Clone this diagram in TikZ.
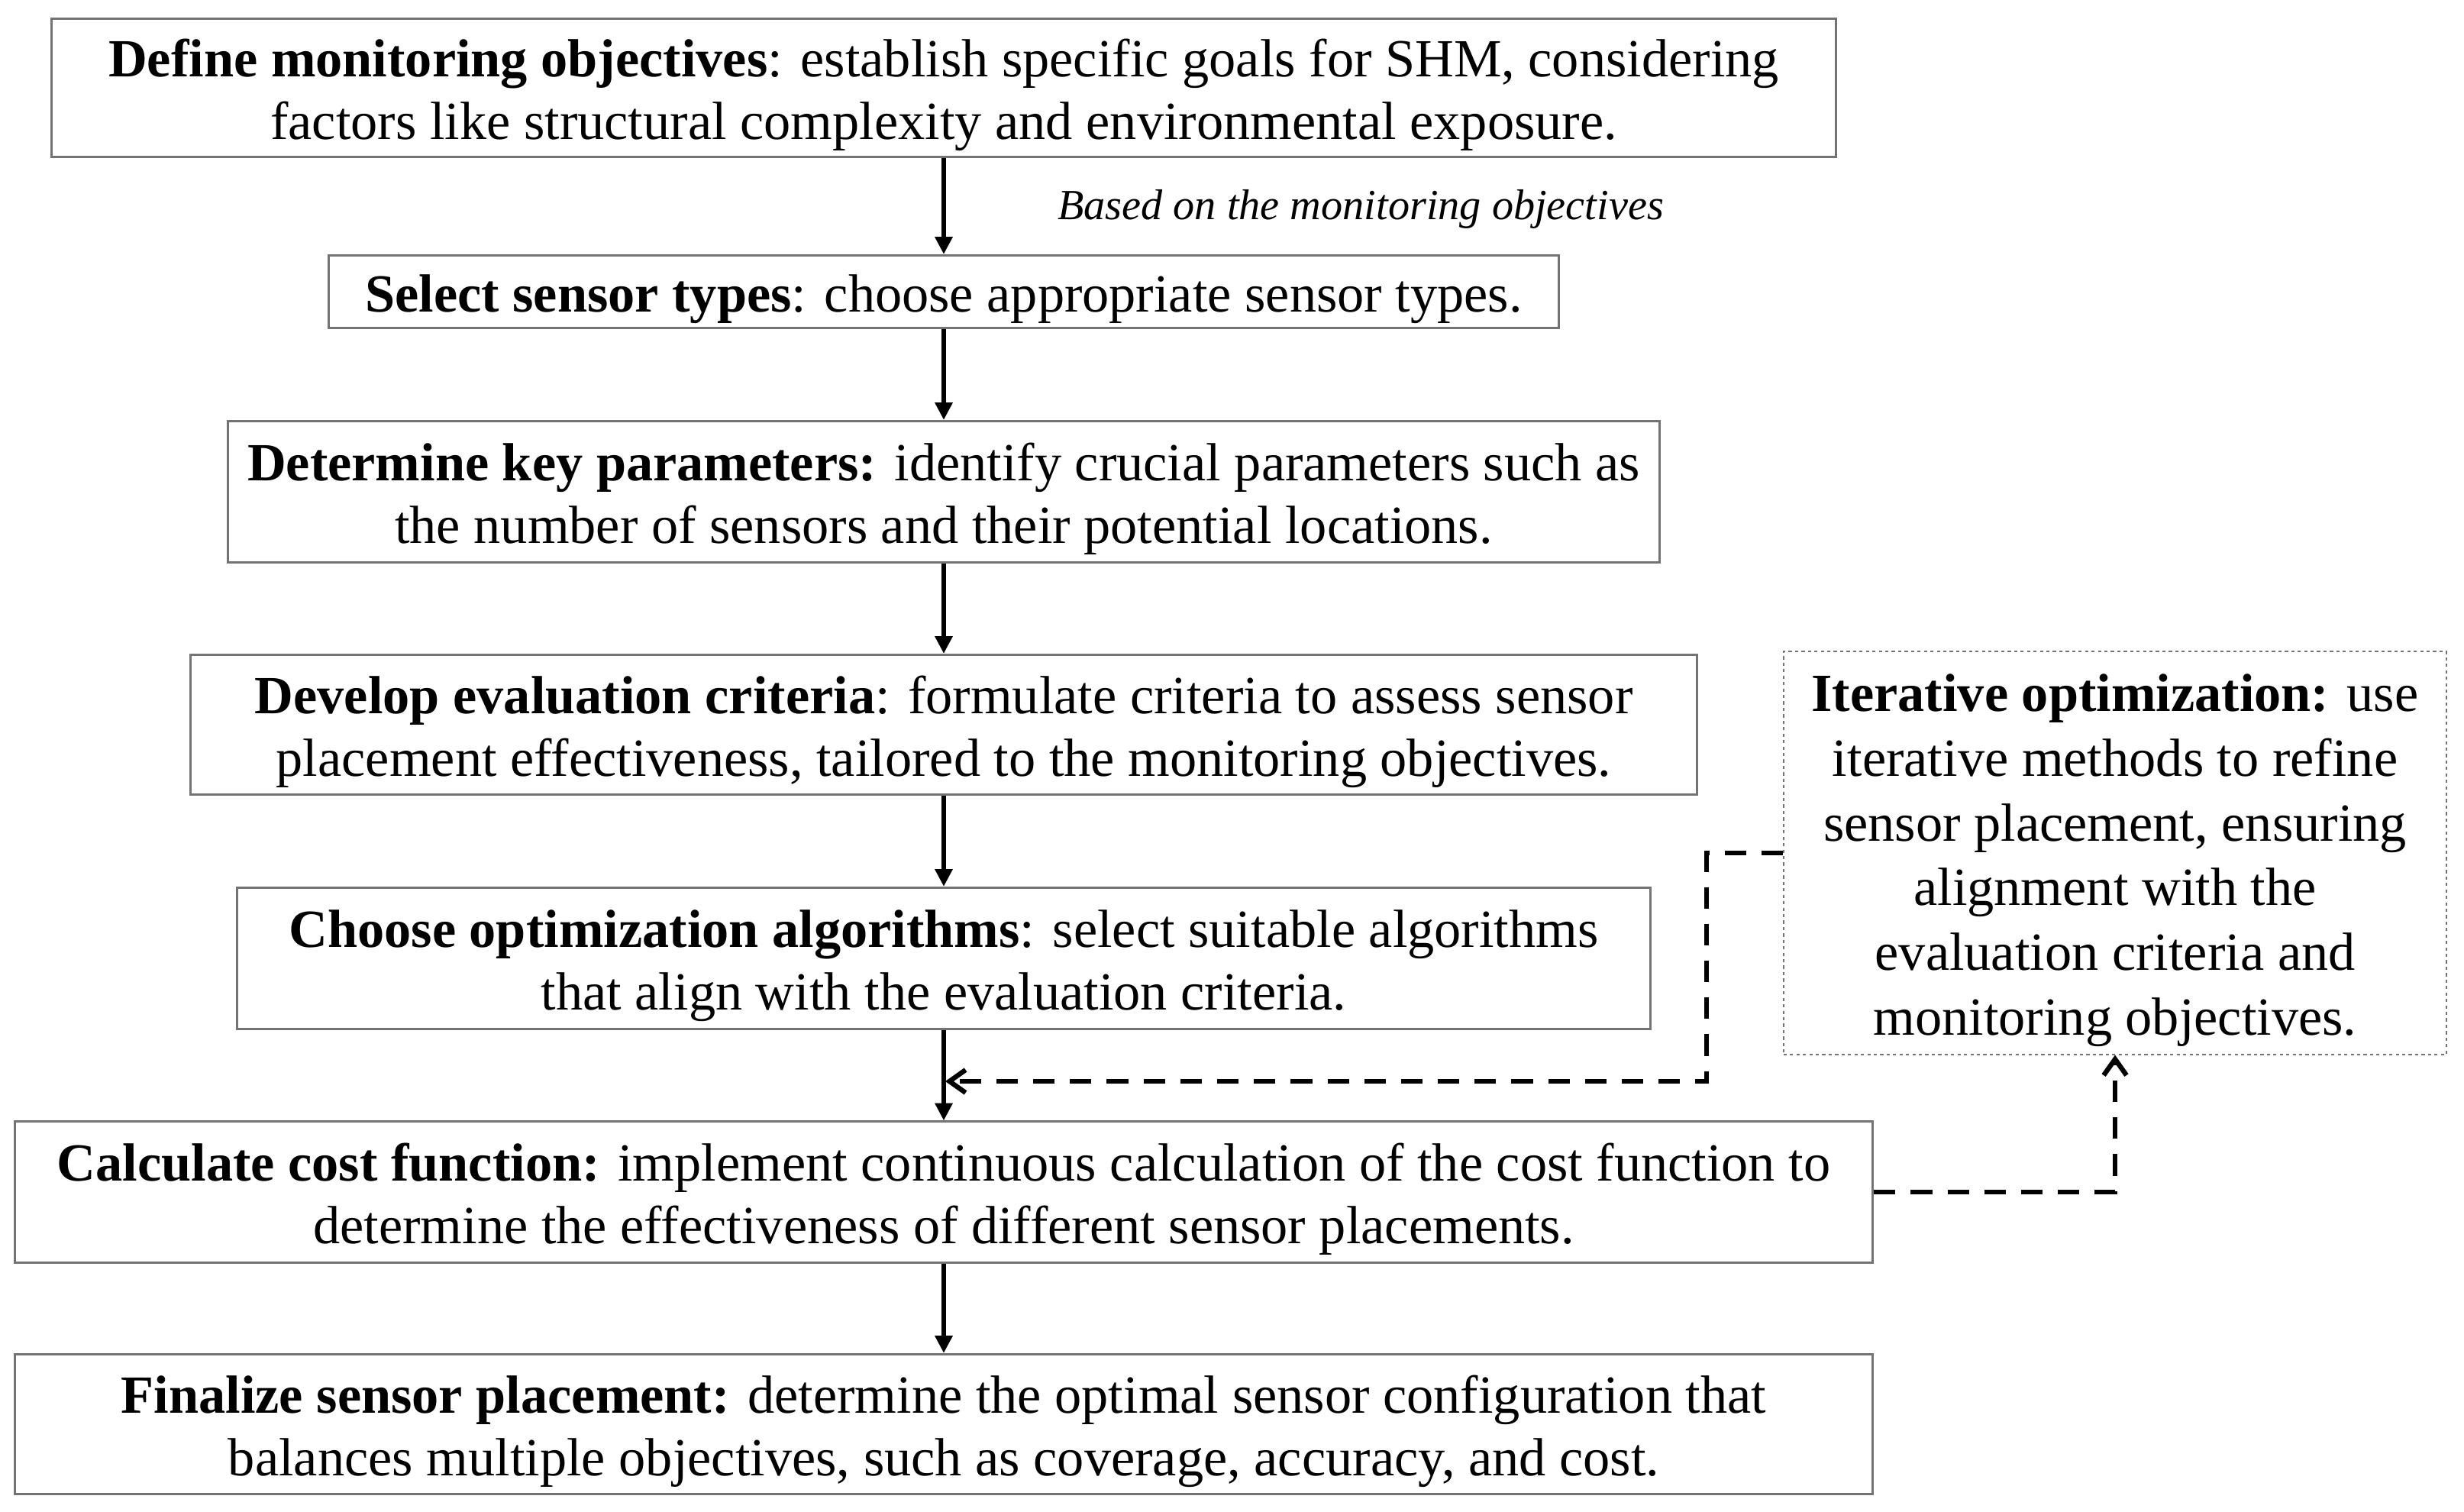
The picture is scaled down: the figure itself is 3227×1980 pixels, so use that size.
\documentclass[tikz,border=0pt]{standalone}
\usepackage{fontspec}
\setmainfont{Liberation Serif}
\usetikzlibrary{arrows.meta}
\newcommand{\capstrut}{\rule{0pt}{19.4pt}}

\begin{document}
\begin{tikzpicture}[x=0.01cm,y=-0.01cm,
stage/.style={draw=black!55,line width=0.85pt,inner sep=0pt,align=center,font=\fontsize{20}{23.3}\selectfont},
iterbox/.style={draw=black!55,line width=0.5pt,dash pattern=on 1.2pt off 1.2pt,inner sep=0pt,align=center,font=\fontsize{20}{24.1}\selectfont},
flow/.style={line width=1.8pt,-{Triangle[length=6.5pt,width=6.3pt]}},
loopback/.style={line width=1.8pt,dash pattern=on 8pt off 5.7pt,-{Straight Barb[length=6pt,width=8.5pt,line width=1.8pt]}}]
\useasboundingbox (0,0) rectangle (3227,1980);
\node[stage,minimum width=23.36cm,minimum height=1.81cm] (define) at (1236,115) {\capstrut\textbf{Define monitoring objectives}: establish specific goals for SHM, considering\\factors like structural complexity and environmental exposure.};
\node[stage,minimum width=16.1cm,minimum height=0.95cm] (select) at (1236,382) {\capstrut\textbf{Select sensor types}: choose appropriate sensor types.};
\node[stage,minimum width=18.73cm,minimum height=1.85cm] (param) at (1236,644) {\capstrut\textbf{Determine key parameters:} identify crucial parameters such as\\the number of sensors and their potential locations.};
\node[stage,minimum width=19.72cm,minimum height=1.83cm] (crit) at (1236,949) {\capstrut\textbf{Develop evaluation criteria}: formulate criteria to assess sensor\\placement effectiveness, tailored to the monitoring objectives.};
\node[stage,minimum width=18.5cm,minimum height=1.85cm] (algo) at (1236,1255) {\capstrut\textbf{Choose optimization algorithms}: select suitable algorithms\\that align with the evaluation criteria.};
\node[stage,minimum width=24.32cm,minimum height=1.84cm] (cost) at (1236,1561) {\capstrut\textbf{Calculate cost function:} implement continuous calculation of the cost function to\\determine the effectiveness of different sensor placements.};
\node[stage,minimum width=24.32cm,minimum height=1.83cm] (final) at (1236,1865) {\capstrut\textbf{Finalize sensor placement:} determine the optimal sensor configuration that\\balances multiple objectives, such as coverage, accuracy, and cost.};
\node[iterbox,minimum width=8.68cm,minimum height=5.27cm] (iter) at (2770,1117) {\capstrut\textbf{Iterative optimization:} use\\iterative methods to refine\\sensor placement, ensuring\\alignment with the\\evaluation criteria and\\monitoring objectives.};
\node[font=\fontsize{16}{19}\selectfont\itshape] (basis) at (1782,274) {Based on the monitoring objectives};
\coordinate (join) at (1238,1416);
\coordinate (turn) at (2235,1416);
\draw[flow] (define)--(select);\draw[flow] (select)--(param);\draw[flow] (param)--(crit);
\draw[flow] (crit)--(algo);\draw[flow] (algo)--(cost);\draw[flow] (cost)--(final);
\draw[loopback] (iter.west) -| (turn) -- (join);
\draw[loopback] (cost.east) -| (iter.south);
\end{tikzpicture}
\end{document}
